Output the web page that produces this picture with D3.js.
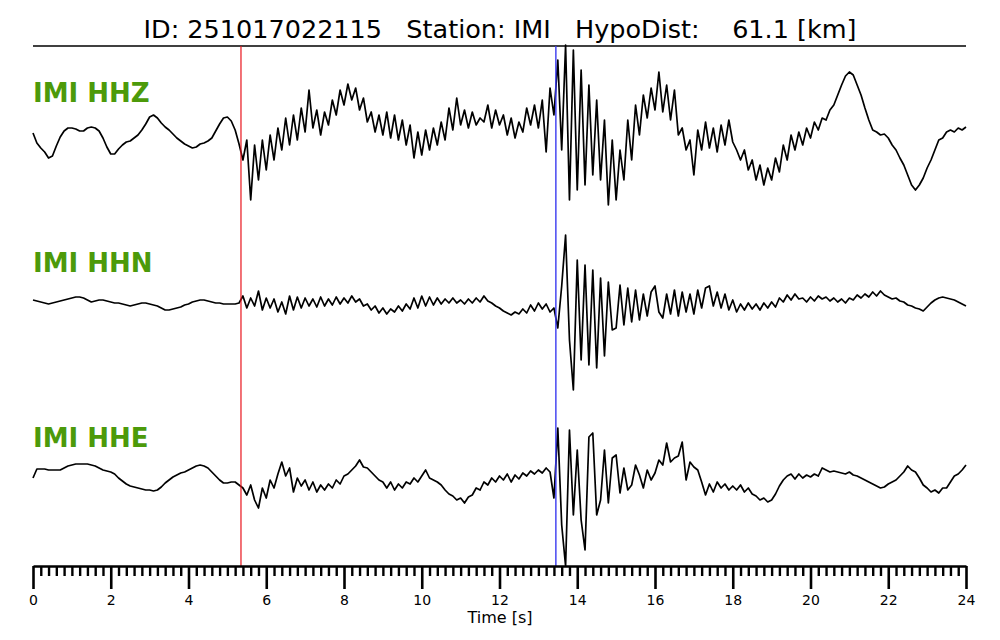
<!DOCTYPE html>
<html>
<head>
<meta charset="utf-8">
<script src="https://cdn.jsdelivr.net/npm/d3@7"></script>
<style>
  body { margin: 0; background: #fff; }
  svg { display: block; font-family: "DejaVu Sans", sans-serif; }
</style>
</head>
<body>
<div id="chartContainer"></div>
<script>
// record info
const eventId = "251017022115";
const station = "IMI";
const hypoDist = 61.1;
const channels = ["HHZ", "HHN", "HHE"];
const pickP = 5.35;   // red marker [s]
const pickS = 13.45;  // blue marker [s]
const sampleStep = 0.1; // seconds between samples below
const majorTicks = [0, 2, 4, 6, 8, 10, 12, 14, 16, 18, 20, 22, 24];

// amplitudes (arbitrary units, up is positive), one value every 0.1 s
const hhz = [
  -3, -13, -18, -22, -28, -26, -16, -7, -1, 2,
  2, 1, -1, -1, 2, 3, 2, -1, -8, -17,
  -24, -24, -19, -15, -12, -11, -8, -5, 0, 6,
  13, 15, 12, 7, 3, 0, -4, -8, -11, -14,
  -16, -18, -17, -14, -13, -11, -8, -1, 6, 12,
  13, 9, 0, -14, -30, -10, -70, -15, -50, -10,
  -40, -5, -30, 2, -20, 12, -15, 15, -10, 22,
  -2, 40, 2, 20, -5, 18, 5, 30, 15, 40,
  25, 46, 30, 42, 20, 32, 8, 18, -2, 15,
  -5, 18, -8, 15, -10, 10, -15, 5, -28, -2,
  -25, 0, -20, 2, -15, 8, -10, 22, 0, 32,
  5, 20, 2, 18, 5, 12, 8, 25, 2, 20,
  5, 15, -5, 12, -8, 8, -2, 22, 5, 25,
  2, 30, -22, 42, 15, 70, -20, 85, -70, 80,
  -60, 60, -55, 45, -45, 30, -50, 10, -75, -10,
  -70, -20, -50, 10, -30, 25, -5, 35, 12, 42,
  20, 58, 18, 45, 10, 40, -5, 2, -20, -10,
  -45, 0, -20, 8, -18, 2, -22, 5, -15, 10,
  -12, -20, -30, -20, -40, -30, -50, -35, -55, -38,
  -50, -28, -42, -15, -30, -5, -20, -2, -15, 2,
  -8, 8, 0, 12, 10, 20, 25, 35, 45, 54,
  58, 55, 45, 35, 22, 10, 0, -2, -5, -4,
  -8, -15, -20, -28, -35, -45, -55, -60, -55, -48,
  -38, -30, -20, -10, -8, -2, 0, -2, 2, 0,
  3
];
const hhn = [
  0, -1, -2, -3, -4, -3, -2, -1, 0, 1,
  2, 3, 3, 2, 0, -2, -1, 0, 0, -1,
  -2, -3, -3, -4, -5, -6, -5, -4, -3, -3,
  -4, -5, -6, -8, -10, -10, -9, -8, -7, -5,
  -4, -2, -1, 0, 0, -1, -2, -3, -3, -4,
  -4, -4, -4, -3, 4, -8, 2, -6, 9, -10,
  2, -8, 1, -12, -2, -14, 4, -10, 3, -8,
  2, -6, 1, -7, 3, -6, 1, -5, 3, -4,
  2, -3, 4, -2, 1, -6, -4, -10, -6, -13,
  -8, -14, -9, -12, -6, -11, -4, -9, 2, -8,
  4, -6, 3, -5, 2, -4, 1, -3, 2, -3,
  0, -4, 1, -3, 2, -2, 4, -1, -3, -6,
  -8, -11, -13, -15, -12, -14, -9, -13, -5, -11,
  -3, -9, -4, -12, -8, -28, 14, 65, -40, -90,
  40, -60, 35, -65, 30, -68, 22, -56, 18, -30,
  -28, 15, -25, 12, -22, 10, -20, 6, -16, 8,
  14, -12, -18, 6, -14, 10, -16, 8, -12, 6,
  -14, 10, -8, 12, 14, -6, 8, -8, 6, -10,
  0, -12, -4, -10, -3, -9, -4, -10, -3, -8,
  -2, -7, 2, -2, 5, 0, 6, 1, 2, -2,
  3, -1, 4, 1, 3, -1, 2, -2, 1, -3,
  2, 0, 5, 2, 6, 3, 8, 4, 9, 5,
  3, 1, 2, -1, -2, -5, -6, -8, -9, -11,
  -7, -3, 0, 2, 3, 2, 1, 0, -2, -4,
  -6
];
const hhe = [
  -8, 1, 1, 1, 0, 0, 0, 0, 2, 4,
  5, 6, 6, 6, 6, 5, 4, 2, 0, -1,
  -2, -4, -8, -11, -14, -16, -17, -18, -19, -20,
  -20, -21, -20, -17, -13, -10, -7, -5, -3, -2,
  0, 2, 4, 5, 4, 2, -2, -6, -10, -13,
  -13, -12, -12, -15, -18, -25, -15, -30, -38, -18,
  -28, -10, -18, -4, 8, -6, 2, -22, -8, -16,
  -10, -20, -12, -22, -15, -20, -14, -18, -10, -14,
  -6, -4, 0, 4, 10, 3, 2, -2, -6, -10,
  -12, -18, -12, -20, -14, -18, -12, -14, -8, -12,
  -6, 0, -8, -10, -12, -15, -20, -24, -26, -30,
  -28, -33, -27, -25, -18, -20, -12, -15, -8, -12,
  -6, -10, -4, -12, -5, -9, -3, -6, -1, -4,
  0, -3, 2, -2, -28, 42, -55, -96, 40, -45,
  20, -50, -80, 33, 37, -45, -30, 20, -33, 12,
  15, -23, 2, -20, -15, 5, -5, -18, 0, -10,
  -3, 10, 5, 27, 8, 12, 14, 28, -10, 8,
  3, 0, -12, -25, -14, -22, -12, -18, -14, -20,
  -16, -20, -15, -22, -18, -24, -26, -30, -28, -32,
  -30, -24, -16, -10, -6, -4, -9, -4, -8, -5,
  -7, -4, -6, 2, 0, -2, -1, -2, -3, -4,
  -2, -5, -6, -8, -10, -12, -14, -16, -18, -17,
  -14, -12, -10, -6, -2, 4, 0, -2, -8, -15,
  -18, -22, -20, -23, -18, -18, -12, -6, -4, 0,
  5
];
const traces = [hhz, hhn, hhe];

const width = 1000;
const height = 640;
const marginLeft = 33;
const marginRight = 34;
const axisY = 566;
const topLineY = 46;

const svg = d3.create("svg")
  .attr("width", width)
  .attr("height", height)
  .attr("viewBox", [0, 0, width, height]);
document.getElementById("chartContainer").appendChild(svg.node());

const x = d3.scaleLinear()
  .domain([0, 24])
  .range([marginLeft, width - marginRight]);

// one row per channel, amplitude measured from the row centre
const row = d3.scalePoint()
  .domain(channels)
  .range([130, 470]);

const amp = d3.scaleLinear()
  .domain([-100, 100])
  .range([100, -100]);

// title
svg.append("text")
  .attr("x", width / 2)
  .attr("y", 38)
  .attr("text-anchor", "middle")
  .style("white-space", "pre")
  .style("font-size", "25.5px")
  .attr("fill", "#000")
  .text(`ID: ${eventId}   Station: ${station}   HypoDist:    ${hypoDist.toFixed(1)} [km]`);

svg.append("line")
  .attr("x1", x(0)).attr("x2", x(24))
  .attr("y1", topLineY).attr("y2", topLineY)
  .attr("stroke", "#000")
  .attr("stroke-width", 1.6);

// traces
const line = d3.line()
  .x((d, i) => x(i * sampleStep))
  .y(d => d);

traces.forEach((vals, k) => {
  const base = row(channels[k]);
  svg.append("path")
    .datum(vals.map(v => base + amp(v)))
    .attr("fill", "none")
    .attr("stroke", "#000")
    .attr("stroke-width", 1.7)
    .attr("stroke-linejoin", "round")
    .attr("d", line);

  svg.append("text")
    .attr("x", x(0))
    .attr("y", base - (k === 2 ? 23 : 28))
    .attr("fill", "#4c9a0a")
    .style("font-size", "26px")
    .style("font-weight", "bold")
    .text(`${station} ${channels[k]}`);
});

// phase markers
svg.append("line")
  .attr("x1", x(pickP)).attr("x2", x(pickP))
  .attr("y1", topLineY).attr("y2", axisY)
  .attr("stroke", "#e8141c")
  .attr("stroke-width", 1.2);

svg.append("line")
  .attr("x1", x(pickS)).attr("x2", x(pickS))
  .attr("y1", topLineY).attr("y2", axisY)
  .attr("stroke", "#3a3af0")
  .attr("stroke-width", 1.4);

// time axis: minor every 0.2 s, major every 2 s
const minor = svg.append("g")
  .attr("transform", `translate(0,${axisY})`)
  .call(d3.axisBottom(x)
    .tickValues(d3.range(0, 120).map(i => i * 0.2).filter((d, i) => i % 10 !== 0))
    .tickSize(10)
    .tickSizeOuter(0)
    .tickFormat(""));
minor.select(".domain").remove();
minor.selectAll("line").attr("stroke-width", 2.4);

const major = svg.append("g")
  .attr("transform", `translate(0,${axisY})`)
  .call(d3.axisBottom(x)
    .tickValues(majorTicks)
    .tickSize(23)
    .tickSizeOuter(0)
    .tickPadding(6)
    .tickFormat(d3.format("d")));
major.select(".domain").attr("stroke-width", 2.6);
major.selectAll("line").attr("stroke-width", 2.6);
major.selectAll("text")
  .style("font-size", "14px")
  .style("font-family", "DejaVu Sans, sans-serif")
  .attr("fill", "#000");

svg.append("text")
  .attr("x", width / 2)
  .attr("y", 623)
  .attr("text-anchor", "middle")
  .style("font-size", "16px")
  .text("Time [s]");
</script>
</body>
</html>
